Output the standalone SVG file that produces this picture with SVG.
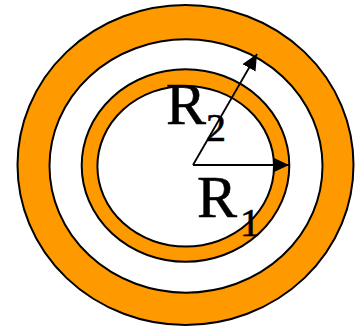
<svg xmlns="http://www.w3.org/2000/svg" width="360" height="328" viewBox="0 0 360 328">
<defs>
<style>
.ring{fill:#FF9900;stroke:#000;stroke-width:2}
.hole{fill:#FFFFFF;stroke:#000;stroke-width:2}
.arr{stroke:#000;stroke-width:1.8;fill:none}
.lbl{font-family:"Liberation Serif","Times New Roman",serif;fill:#000;stroke:#000;stroke-width:0.6}
</style>
<marker id="ah" markerUnits="userSpaceOnUse" markerWidth="17" markerHeight="15" refX="16" refY="7.5" orient="auto">
<path d="M0,0 L16,7.5 L0,15 Z" fill="#000"/>
</marker>
</defs>
<g id="outer-ring">
<ellipse class="ring" cx="185.5" cy="165" rx="168" ry="160"/>
<ellipse class="hole" cx="186" cy="166" rx="136.5" ry="126.7"/>
</g>
<g id="inner-ring">
<ellipse class="ring" cx="185.5" cy="165.5" rx="103.8" ry="96.2"/>
<ellipse class="hole" cx="185.7" cy="166.3" rx="88.3" ry="80.3"/>
</g>
<g id="connectors">
<line class="arr" x1="193" y1="165" x2="289" y2="165" marker-end="url(#ah)"/>
<line class="arr" x1="193" y1="165" x2="257" y2="54" marker-end="url(#ah)"/>
</g>
<g id="label-R2">
<text class="lbl" x="166" y="124" font-size="60">R</text>
<text class="lbl" x="206" y="141" font-size="40">2</text>
</g>
<g id="label-R1">
<text class="lbl" x="197" y="217" font-size="60">R</text>
<text class="lbl" x="240" y="236" font-size="40">1</text>
</g>
</svg>
